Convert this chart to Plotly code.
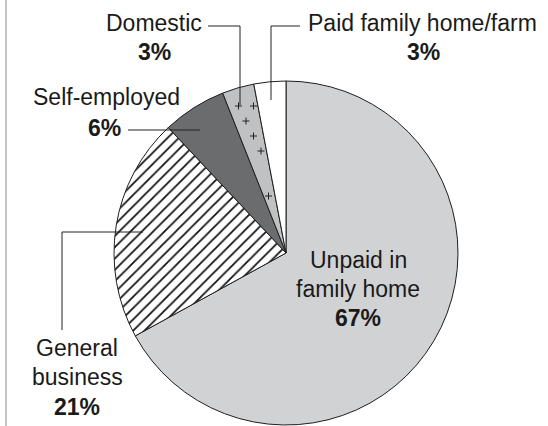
import math
import plotly.graph_objects as go

# ---- data ----
labels = ["Unpaid in family home", "General business", "Self-employed", "Domestic", "Paid family home/farm"]
values = [67, 21, 6, 3, 3]
colors = ["#d1d2d4", "#ffffff", "#6b6c6e", "#c0c1c3", "#ffffff"]
patterns = ["", "/", "", "", ""]

W, H = 548, 426
CX, CY, R = 286, 253, 172  # pie centre / radius in px


def px(x):
    return x / W


def py(y):
    return 1 - y / H


fig = go.Figure()
fig.add_trace(go.Pie(
    labels=labels, values=values, sort=False, direction="clockwise", rotation=0,
    textinfo="none", hoverinfo="label+percent", showlegend=False,
    marker=dict(colors=colors, line=dict(color="#1e1e1e", width=1),
                pattern=dict(shape=patterns, fgcolor="#111111", size=8, solidity=0.22)),
    domain=dict(x=[px(CX - R), px(CX + R)], y=[py(CY + R), py(CY - R)]),
))

# ---- plus-sign texture for the "Domestic" slice (derived from the data) ----
total = sum(values)
start = sum(values[:3]) / total * 360
end = sum(values[:4]) / total * 360
plus_path = []
for j in range(30):
    yy = 61 + j * 15
    off = 7.5 if j % 2 else 0
    for i in range(40):
        xx = 6 + off + i * 15
        dx, dy = xx - CX, CY - yy
        d = math.hypot(dx, dy)
        th = math.degrees(math.atan2(dx, dy)) % 360
        if d > R - 7 or not (start < th < end):
            continue
        m = min(th - start, end - th)
        if d * math.sin(math.radians(m)) < 4.0:
            continue
        plus_path.append(f"M{px(xx-3.5)},{py(yy)}L{px(xx+3.5)},{py(yy)}"
                         f"M{px(xx)},{py(yy-3.5)}L{px(xx)},{py(yy+3.5)}")
shapes = []
if plus_path:
    shapes.append(dict(type="path", xref="paper", yref="paper", path="".join(plus_path),
                       line=dict(color="#222222", width=1), layer="above"))

# ---- leader lines ----
leaders = [
    [(208, 26), (240, 26), (240, 105)],
    [(300, 26), (271, 26), (271, 100)],
    [(128, 130), (200, 130)],
    [(62, 330), (62, 232), (143, 232)],
]
for pts in leaders:
    path = "M" + "L".join(f"{px(x)},{py(y)}" for x, y in pts)
    shapes.append(dict(type="path", xref="paper", yref="paper", path=path,
                       line=dict(color="#222222", width=1), layer="above"))

# left border line
shapes.append(dict(type="line", xref="paper", yref="paper", x0=px(6), x1=px(6), y0=0, y1=1,
                   line=dict(color="#c4c4c4", width=2)))

# ---- labels ----
pct = [f"{round(v / total * 100)}%" for v in values]
label_lines = {
    0: (["Unpaid in", "family home"], 358, 260),
    1: (["General", "business"], 77, 348),
    2: (["Self-employed"], 106, 97),
    3: (["Domestic"], 154, 23),
    4: (["Paid family home/farm"], 422, 23),
}
pct_pos = {0: (358, 318), 1: (77, 407), 2: (104, 128), 3: (154, 52), 4: (423, 52)}
annotations = []
font = dict(family="Liberation Sans, Arial, sans-serif", size=23, color="#1a1a1a")
for k, (lines, x, y) in label_lines.items():
    for n, t in enumerate(lines):
        annotations.append(dict(text=t, x=px(x), y=py(y + n * 29), xref="paper", yref="paper",
                                showarrow=False, xanchor="center", yanchor="middle", font=font))
    xx, yy = pct_pos[k]
    annotations.append(dict(text=f"<b>{pct[k]}</b>", x=px(xx), y=py(yy), xref="paper", yref="paper",
                            showarrow=False, xanchor="center", yanchor="middle", font=font))

fig.update_layout(
    width=W, height=H, margin=dict(l=0, r=0, t=0, b=0),
    paper_bgcolor="white", plot_bgcolor="white",
    shapes=shapes, annotations=annotations,
)
fig.write_html(
    "out.html",
    config={"displayModeBar": False},
    post_script="document.body.style.margin='0';document.body.style.overflow='hidden';",
)
